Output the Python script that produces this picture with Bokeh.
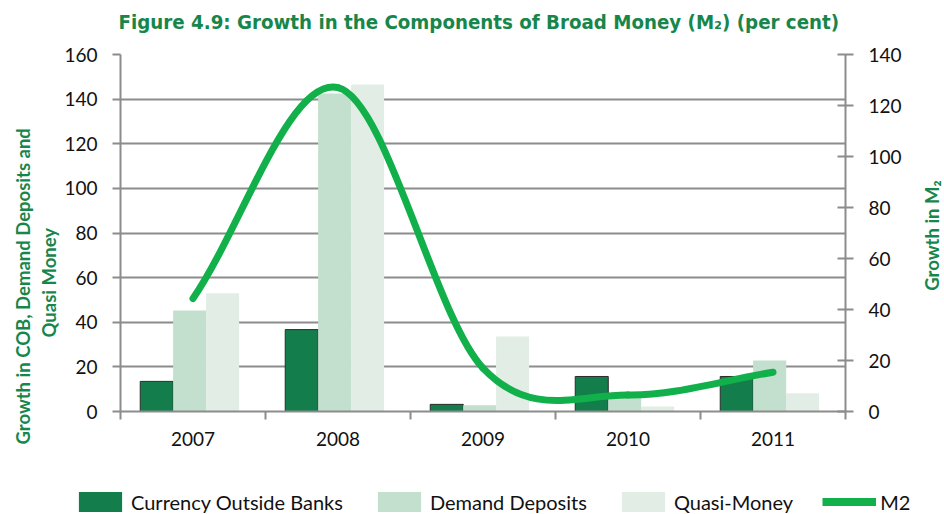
from math import pi
from bokeh.plotting import figure
from bokeh.layouts import column, row
from bokeh.models import (Range1d, LinearAxis, FixedTicker, Legend, LegendItem,
                          ColumnDataSource, Title, Label)
from bokeh.transform import dodge
from bokeh.embed import file_html
from bokeh.resources import INLINE

# ---- data ----
years = ["2007", "2008", "2009", "2010", "2011"]
cob = [13.5, 36.7, 3.2, 15.7, 15.7]        # Currency Outside Banks (left axis)
demand = [45.3, 142.5, 2.8, 6.0, 22.9]     # Demand Deposits (left axis)
quasi = [53.0, 146.6, 33.6, 2.2, 8.2]      # Quasi-Money (left axis)
m2 = [44.3, 127.0, 17.0, 6.5, 15.4]        # M2 growth (right axis)
left_ticks = [0, 20, 40, 60, 80, 100, 120, 140, 160]
right_ticks = [0, 20, 40, 60, 80, 100, 120, 140]
left_label_lines = ["Growth in COB, Demand Deposits and", "Quasi Money"]
right_label = "Growth in M\u2082"
title_text = "Figure 4.9: Growth in the Components of Broad Money (M\u2082) (per cent)"
series_names = ["Currency Outside Banks", "Demand Deposits", "Quasi-Money", "M2"]

GREEN_T = "#17864b"
C_COB = "#147d4c"
C_DD = "#c3dfcd"
C_QM = "#e2eee5"
C_M2 = "#12b04a"
GRID = "#8c8c8c"
TICKFONT = "Lato"
LABELFONT = "Lato"

xs = list(range(len(years)))


def bare_figure(w, h):
    f = figure(width=w, height=h, x_range=Range1d(0, 1), y_range=Range1d(0, 1),
               output_backend="svg", toolbar_location=None, title=None,
               x_axis_location=None, y_axis_location=None,
               min_border_left=0, min_border_right=0, min_border_top=0, min_border_bottom=0)
    f.outline_line_color = None
    f.xgrid.visible = False
    f.ygrid.visible = False
    return f


p = figure(width=920, height=470, title=None,
           x_range=Range1d(-0.5, len(years) - 0.5),
           y_range=Range1d(left_ticks[0], left_ticks[-1]),
           output_backend="svg", toolbar_location=None,
           min_border_left=120, min_border_right=75,
           min_border_top=54, min_border_bottom=59)
p.outline_line_color = None
p.background_fill_color = "white"
p.border_fill_color = "white"
p.extra_y_ranges = {"m2": Range1d(right_ticks[0], right_ticks[-1])}

# title: a tiny spacer title next to the frame, the real title above it
p.add_layout(Title(text=" ", text_font_size="1px", standoff=16), "above")
p.add_layout(Title(text=title_text, align="left", offset=-2, standoff=4,
                   text_font="DejaVu Sans Condensed", text_font_size="20.3px",
                   text_font_style="bold", text_color=GREEN_T), "above")

# x axis
xa = p.xaxis[0]
xa.ticker = FixedTicker(ticks=xs, minor_ticks=[i - 0.5 for i in range(len(years) + 1)])
xa.major_label_overrides = {i: y for i, y in zip(xs, years)}
xa.major_tick_line_color = None
xa.minor_tick_in = 0
xa.minor_tick_out = 8
xa.minor_tick_line_color = GRID
xa.minor_tick_line_width = 2
xa.axis_line_color = GRID
xa.axis_line_width = 2
xa.major_label_text_font = TICKFONT
xa.major_label_text_font_size = "19px"
xa.major_label_text_color = "#111111"
xa.major_label_standoff = 12

# left axis
ya = p.yaxis[0]
ya.ticker = FixedTicker(ticks=left_ticks)
ya.major_tick_in = 0
ya.major_tick_out = 8
ya.minor_tick_line_color = None
ya.major_tick_line_color = GRID
ya.major_tick_line_width = 2
ya.axis_line_color = GRID
ya.axis_line_width = 2
ya.major_label_text_font = TICKFONT
ya.major_label_text_font_size = "19px"
ya.major_label_text_color = "#111111"
ya.major_label_standoff = 15

# left axis title: two lines, placed in the left panel
t2 = Title(text=left_label_lines[1], align="left", offset=74, standoff=4,
           text_font=LABELFONT, text_font_style="bold", text_font_size="18.5px",
           text_color=GREEN_T)
t1 = Title(text=left_label_lines[0], align="left", offset=-33, standoff=0,
           text_font=LABELFONT, text_font_style="bold", text_font_size="18.5px",
           text_color=GREEN_T)
p.add_layout(t2, "left")
p.add_layout(t1, "left")

# right axis
ra = LinearAxis(y_range_name="m2", ticker=FixedTicker(ticks=right_ticks))
ra.major_tick_in = 8
ra.major_tick_out = 8
ra.minor_tick_line_color = None
ra.major_tick_line_color = GRID
ra.major_tick_line_width = 2
ra.axis_line_color = GRID
ra.axis_line_width = 2
ra.major_label_text_font = TICKFONT
ra.major_label_text_font_size = "19px"
ra.major_label_text_color = "#111111"
ra.major_label_standoff = 15
p.add_layout(ra, "right")

p.xgrid.visible = False
p.ygrid.grid_line_color = GRID
p.ygrid.grid_line_width = 2

# bars
src = ColumnDataSource(dict(x=xs, cob=cob, demand=demand, quasi=quasi))
W = 0.228
p.vbar(x=dodge("x", -0.25), top="cob", width=W, source=src,
       fill_color=C_COB, line_color="#2b2b2b", line_width=1)
p.vbar(x=dodge("x", -0.023), top="demand", width=W, source=src,
       fill_color=C_DD, line_color=None)
p.vbar(x=dodge("x", 0.204), top="quasi", width=W, source=src,
       fill_color=C_QM, line_color=None)

# smoothed M2 line (cubic Bezier segments through the data points)
pts = list(zip(xs, m2))
n = len(pts)
seg = dict(x0=[], y0=[], x1=[], y1=[], cx0=[], cy0=[], cx1=[], cy1=[])
for i in range(n - 1):
    a = pts[i - 1] if i > 0 else (2 * pts[0][0] - pts[1][0], 2 * pts[0][1] - pts[1][1])
    b = pts[i]
    c = pts[i + 1]
    d = pts[i + 2] if i + 2 < n else (2 * pts[-1][0] - pts[-2][0], 2 * pts[-1][1] - pts[-2][1])
    seg["x0"].append(b[0]); seg["y0"].append(b[1])
    seg["x1"].append(c[0]); seg["y1"].append(c[1])
    seg["cx0"].append(b[0] + (c[0] - a[0]) / 6); seg["cy0"].append(b[1] + (c[1] - a[1]) / 6)
    seg["cx1"].append(c[0] - (d[0] - b[0]) / 6); seg["cy1"].append(c[1] - (d[1] - b[1]) / 6)
p.bezier(x0="x0", y0="y0", x1="x1", y1="y1", cx0="cx0", cy0="cy0", cx1="cx1", cy1="cy1",
         source=ColumnDataSource(seg), line_color=C_M2, line_width=7, line_cap="round",
         y_range_name="m2")

# right-hand axis title in a narrow strip beside the chart
rf = bare_figure(24, 470)
rf.add_layout(Label(x=11, y=235, x_units="screen", y_units="screen", text=right_label,
                    angle=pi / 2, text_align="center", text_baseline="middle",
                    text_font=LABELFONT, text_font_style="bold",
                    text_font_size="18.5px", text_color=GREEN_T))

# legend strip under the chart (its key glyphs lie off-range)
lg = bare_figure(944, 44)
key_src = ColumnDataSource(dict(x=[-10, -9], y=[-10, -10]))
k_cob = lg.vbar(x="x", top="y", width=0.1, source=key_src, fill_color=C_COB, line_color=None)
k_dd = lg.vbar(x="x", top="y", width=0.1, source=key_src, fill_color=C_DD, line_color=None)
k_qm = lg.vbar(x="x", top="y", width=0.1, source=key_src, fill_color=C_QM, line_color=None)
k_m2 = lg.line(x="x", y="y", source=key_src, line_color=C_M2, line_width=8)
legend = Legend(items=[LegendItem(label=series_names[0], renderers=[k_cob]),
                       LegendItem(label=series_names[1], renderers=[k_dd]),
                       LegendItem(label=series_names[2], renderers=[k_qm]),
                       LegendItem(label=series_names[3], renderers=[k_m2])],
                orientation="horizontal", location=(73, 0),
                glyph_width=54, glyph_height=25, label_standoff=4, spacing=29,
                padding=0, margin=0, border_line_color=None, background_fill_alpha=0,
                label_text_font=LABELFONT, label_text_font_size="20px",
                label_text_color="#111111")
lg.add_layout(legend, "center")

for fig in (p, rf, lg):
    if "frame_align" in fig.properties():
        fig.frame_align = False

layout = column(row(p, rf, spacing=0), lg, spacing=0)
open("out.html", "w").write(file_html(layout, INLINE))
